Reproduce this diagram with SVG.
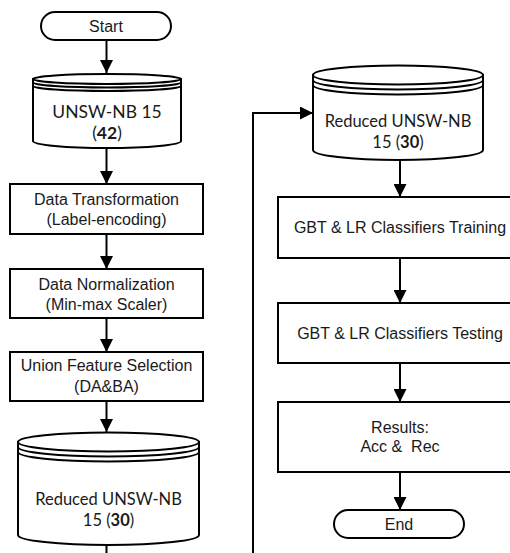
<svg xmlns="http://www.w3.org/2000/svg" width="510" height="553" viewBox="0 0 510 553">
  <style>
    .shape { fill: #ffffff; stroke: #000000; stroke-width: 2; }
    .ring { fill: none; stroke: #000000; stroke-width: 2; }
    .lbl { font-family: "Liberation Sans", Arial, sans-serif; font-size: 16px; fill: #1a1a1a; text-anchor: middle; }
    .db { font-family: Lato, "Open Sans", sans-serif; font-size: 17.5px; fill: #1a1a1a; text-anchor: middle; }
    .db.sm { font-size: 16.5px; }
    .db .b { font-weight: bold; }
    .edge { fill: none; stroke: #000000; stroke-width: 2; }
  </style>
  <defs>
    <marker id="arrow" markerUnits="userSpaceOnUse" markerWidth="13" markerHeight="13" viewBox="0 0 13 13" refX="13" refY="6.5" orient="auto">
      <path d="M0,0 L13,6.5 L0,13 Z" fill="#000000"/>
    </marker>
  </defs>

  <rect width="510" height="553" fill="#ffffff"/>

  <!-- connectors -->
  <g id="connectors">
    <path class="edge" d="M106.5,40 V73" marker-end="url(#arrow)"/>
    <path class="edge" d="M106.5,148 V184" marker-end="url(#arrow)"/>
    <path class="edge" d="M106.5,234 V269" marker-end="url(#arrow)"/>
    <path class="edge" d="M106.5,318 V352" marker-end="url(#arrow)"/>
    <path class="edge" d="M106.5,401 V432" marker-end="url(#arrow)"/>
    <path class="edge" d="M106.5,545 V565 H253 V113 H313" marker-end="url(#arrow)"/>
    <path class="edge" d="M400,160 V197" marker-end="url(#arrow)"/>
    <path class="edge" d="M400,258 V303" marker-end="url(#arrow)"/>
    <path class="edge" d="M400,363 V402" marker-end="url(#arrow)"/>
    <path class="edge" d="M400,472 V510" marker-end="url(#arrow)"/>
  </g>

  <!-- left column -->
  <g id="start">
    <rect class="shape" x="41" y="12" width="130" height="28" rx="14"/>
    <text class="lbl" x="106" y="32">Start</text>
  </g>

  <g id="dataset">
    <path class="shape" d="M33,79 V141 A74,7 0 0 0 181,141 V79 Z"/>
    <ellipse class="shape" cx="107" cy="79" rx="74" ry="5"/>
    <path class="ring" d="M33,82.5 A74,5 0 0 0 181,82.5"/>
    <path class="ring" d="M33,86 A74,5 0 0 0 181,86"/>
    <text class="db" x="107" y="118">UNSW-NB 15</text>
    <text class="db" x="107" y="139">(<tspan class="b">42</tspan>)</text>
  </g>

  <g id="transform">
    <rect class="shape" x="10" y="184" width="193" height="50"/>
    <text class="lbl" x="106.5" y="205">Data Transformation</text>
    <text class="lbl" x="106.5" y="225">(Label-encoding)</text>
  </g>

  <g id="normalize">
    <rect class="shape" x="10" y="269" width="193" height="49"/>
    <text class="lbl" x="106.5" y="290">Data Normalization</text>
    <text class="lbl" x="106.5" y="310">(Min-max Scaler)</text>
  </g>

  <g id="selection">
    <rect class="shape" x="10" y="352" width="193" height="49"/>
    <text class="lbl" x="106.5" y="371">Union Feature Selection</text>
    <text class="lbl" x="106.5" y="392">(DA&amp;BA)</text>
  </g>

  <g id="reduced-left">
    <path class="shape" d="M18,442 V535 A90.5,10 0 0 0 199,535 V442 Z"/>
    <ellipse class="shape" cx="108.5" cy="442" rx="90.5" ry="9.5"/>
    <path class="ring" d="M18,447 A90.5,9.5 0 0 0 199,447"/>
    <path class="ring" d="M18,452 A90.5,9.5 0 0 0 199,452"/>
    <text class="db sm" x="108.5" y="505">Reduced UNSW-NB</text>
    <text class="db sm" x="108.5" y="526">15 (<tspan class="b">30</tspan>)</text>
  </g>

  <!-- right column -->
  <g id="reduced-right">
    <path class="shape" d="M313,75 V150 A85,10 0 0 0 483,150 V75 Z"/>
    <ellipse class="shape" cx="398" cy="75" rx="85" ry="9.5"/>
    <path class="ring" d="M313,80 A85,9.5 0 0 0 483,80"/>
    <path class="ring" d="M313,85 A85,9.5 0 0 0 483,85"/>
    <text class="db sm" x="398" y="127">Reduced UNSW-NB</text>
    <text class="db sm" x="398" y="148">15 (<tspan class="b">30</tspan>)</text>
  </g>

  <g id="training">
    <rect class="shape" x="278" y="197" width="244" height="61"/>
    <text class="lbl" x="400" y="233">GBT &amp; LR Classifiers Training</text>
  </g>

  <g id="testing">
    <rect class="shape" x="278" y="303" width="244" height="60"/>
    <text class="lbl" x="400" y="339">GBT &amp; LR Classifiers Testing</text>
  </g>

  <g id="results">
    <rect class="shape" x="278" y="402" width="244" height="70"/>
    <text class="lbl" x="400" y="433">Results:</text>
    <text class="lbl" x="400" y="452" xml:space="preserve">Acc &amp;  Rec</text>
  </g>

  <g id="end">
    <rect class="shape" x="334" y="510" width="130" height="28" rx="14"/>
    <text class="lbl" x="399" y="530">End</text>
  </g>
</svg>
